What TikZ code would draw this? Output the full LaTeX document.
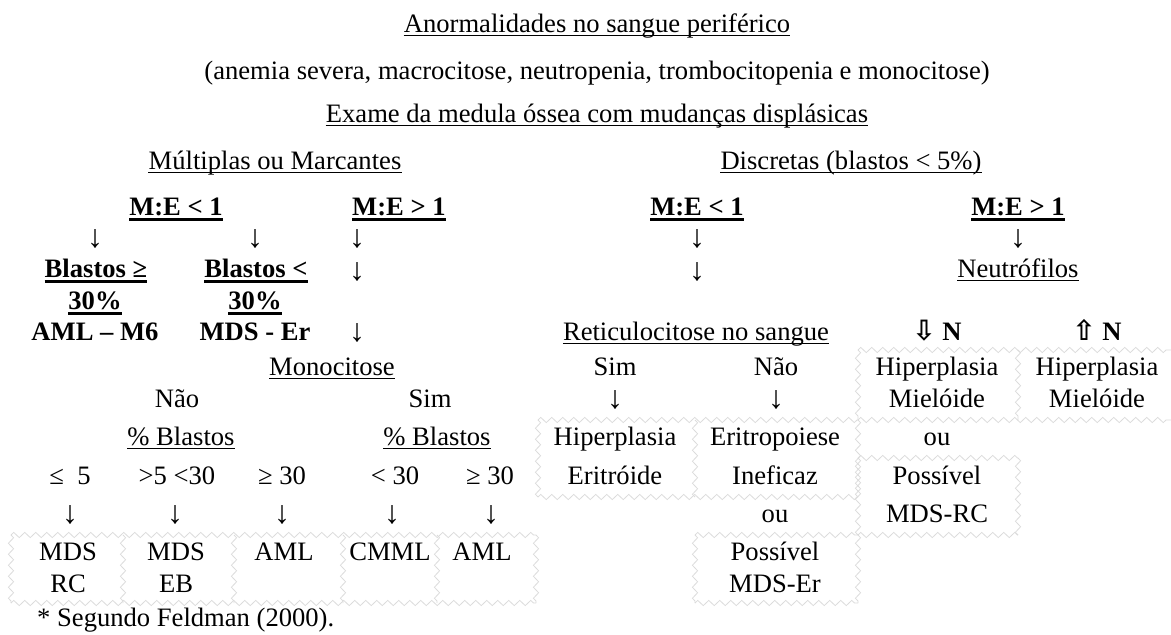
\documentclass[tikz,border=0pt]{standalone}
\usepackage{fontspec}
\setmainfont{Liberation Serif}
\newfontfamily\djv{DejaVu Sans}
\usetikzlibrary{decorations.pathmorphing}
\newcommand\fsz{\fontsize{26.6}{31}\selectfont}
\tikzset{
  txt/.style={inner sep=0pt, anchor=base},
  txtl/.style={inner sep=0pt, anchor=base west},
  bld/.style={txt, font=\fsz\bfseries},
  arr/.style={txt, font=\fontsize{32}{34}\selectfont, text height=16pt, text depth=0pt},
  ulnorm/.style={line width=1.4pt},
  ulbold/.style={line width=2.6pt},
  wave/.style={draw=gray!28, line width=0.8pt, decorate,
    decoration={zigzag, amplitude=2.6pt, segment length=11pt}},
}
\newcommand\ULn[1]{\draw[ulnorm] ([yshift=-3.6pt]#1.base west) -- ([yshift=-3.6pt]#1.base east);}
\newcommand\ULb[1]{\draw[ulbold] ([yshift=-4.3pt]#1.base west) -- ([yshift=-4.3pt]#1.base east);}
\newcommand\dn{↓}
\newcommand\wdn{{\djv\fontsize{28}{30}\selectfont\bfseries ⇩}}
\newcommand\wup{{\djv\fontsize{28}{30}\selectfont\bfseries ⇧}}
\begin{document}
\begin{tikzpicture}[x=1pt,y=-1pt,font=\fsz]
\useasboundingbox (0,0) rectangle (1171,635);
% ---------- wavy cell borders ----------
% bottom-left row
\draw[wave] (11,535) -- (536,535);
\draw[wave] (11,603) -- (536,603);
\foreach \xx in {11,123,234,343,437,536} \draw[wave] (\xx,535) -- (\xx,603);
% Hiperplasia Eritroide / Eritropoiese
\draw[wave] (538,420) -- (858,420);
\draw[wave] (538,497) -- (858,497);
\foreach \xx in {538,695,858} \draw[wave] (\xx,420) -- (\xx,497);
% Possivel MDS-Er
\draw[wave] (695,535) -- (858,535);
\draw[wave] (695,603) -- (858,603);
\foreach \xx in {695,858} \draw[wave] (\xx,535) -- (\xx,603);
% Hiperplasia Mieloide boxes
\draw[wave] (858,350) -- (1171,350);
\draw[wave] (858,420) -- (1171,420);
\foreach \xx in {858,1018} \draw[wave] (\xx,350) -- (\xx,420);
% Possivel MDS-RC
\draw[wave] (858,458) -- (1018,458);
\draw[wave] (858,535) -- (1018,535);
\foreach \xx in {858,1018} \draw[wave] (\xx,458) -- (\xx,535);
% ---------- header ----------
\node[txt] (t1) at (597,32) {Anormalidades no sangue periférico}; \ULn{t1}
\node[txt] (t2) at (597,79) {(anemia severa, macrocitose, neutropenia, trombocitopenia e monocitose)};
\node[txt] (t3) at (597,122) {Exame da medula óssea com mudanças displásicas}; \ULn{t3}
\node[txt] (mul) at (275,169) {Múltiplas ou Marcantes}; \ULn{mul}
\node[txt] (dis) at (851,169) {Discretas (blastos < 5\%)}; \ULn{dis}
% ---------- left part ----------
\node[bld] (me1) at (176,215) {M:E < 1}; \ULb{me1}
\node[bld,anchor=base west] (me2) at (352,215) {M:E > 1}; \ULb{me2}
\node[arr] (a1) at (95,247) {\dn};
\node[arr] (a2) at (255,247) {\dn};
\node[arr] (a3) at (357,247) {\dn};
\node[bld] (b1) at (96,277) {Blastos ≥}; \ULb{b1}
\node[bld] (b2) at (256,277) {Blastos <}; \ULb{b2}
\node[arr] (a4) at (357,280) {\dn};
\node[bld] (p1) at (95,309) {30\%}; \ULb{p1}
\node[bld] (p2) at (255,309) {30\%}; \ULb{p2}
\node[bld] (m6) at (95,340) {AML – M6};
\node[bld] (mer) at (255,340) {MDS - Er};
\node[arr] (a5) at (357,341) {\dn};
\node[txt] (mono) at (332,375) {Monocitose}; \ULn{mono}
\node[txt] (nao1) at (177,407) {Não};
\node[txt] (sim1) at (430,407) {Sim};
\node[txt] (pb1) at (181,445) {\% Blastos\hspace{6pt}}; \ULn{pb1}
\node[txt] (pb2) at (437,445) {\% Blastos}; \ULn{pb2}
\node[txt] (c1) at (70,484) {≤\ \ 5};
\node[txt] (c2) at (177,484) {>5 <30};
\node[txt] (c3) at (282,484) {≥ 30};
\node[txt] (c4) at (395,484) {< 30};
\node[txt] (c5) at (490,484) {≥ 30};
\node[arr] (d1) at (70,523) {\dn};
\node[arr] (d2) at (175,523) {\dn};
\node[arr] (d3) at (282,523) {\dn};
\node[arr] (d4) at (392,523) {\dn};
\node[arr] (d5) at (491,523) {\dn};
\node[txt] (r1) at (68,560) {MDS};
\node[txt] (r2) at (176,560) {MDS};
\node[txt] (r3) at (284,560) {AML};
\node[txt] (r4) at (390,560) {CMML};
\node[txt] (r5) at (482,560) {AML};
\node[txt] (s1) at (68,592) {RC};
\node[txt] (s2) at (176,592) {EB};
\node[txtl] (foot) at (37,626) {* Segundo Feldman (2000).};
% ---------- right part ----------
\node[bld] (me3) at (697,215) {M:E < 1}; \ULb{me3}
\node[bld] (me4) at (1018,215) {M:E > 1}; \ULb{me4}
\node[arr] (e1) at (697,247) {\dn};
\node[arr] (e2) at (1018,247) {\dn};
\node[arr] (e3) at (697,280) {\dn};
\node[txt] (neu) at (1018,277) {Neutrófilos}; \ULn{neu}
\node[txt] (ret) at (696,340) {Reticulocitose no sangue}; \ULn{ret}
\node[bld] (ndn) at (937,340) {\wdn\ N};
\node[bld] (nup) at (1097,340) {\wup\ N};
\node[txt] (sim2) at (615,375) {Sim};
\node[txt] (nao2) at (776,375) {Não};
\node[txt] (h1) at (937,375) {Hiperplasia};
\node[txt] (h2) at (1097,375) {Hiperplasia};
\node[arr] (f1) at (615,408) {\dn};
\node[arr] (f2) at (776,408) {\dn};
\node[txt] (mi1) at (937,407) {Mielóide};
\node[txt] (mi2) at (1097,407) {Mielóide};
\node[txt] (he) at (615,445) {Hiperplasia};
\node[txt] (er) at (775,445) {Eritropoiese};
\node[txt] (ou1) at (937,445) {ou};
\node[txt] (eri) at (615,484) {Eritróide};
\node[txt] (inf) at (775,484) {Ineficaz};
\node[txt] (pos1) at (937,484) {Possível};
\node[txt] (ou2) at (775,522) {ou};
\node[txt] (mrc) at (937,522) {MDS-RC};
\node[txt] (pos2) at (775,560) {Possível};
\node[txt] (mder) at (775,592) {MDS-Er};
\end{tikzpicture}
\end{document}
